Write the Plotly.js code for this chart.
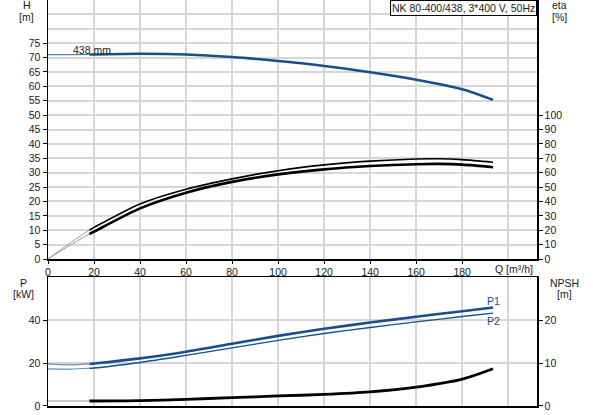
<!DOCTYPE html>
<html>
<head>
<meta charset="utf-8">
<script src="https://cdn.plot.ly/plotly-3.0.1.min.js"></script>
<style>
  html, body { margin: 0; padding: 0; background: #fff; }
  #chart { width: 593px; height: 415px; }
</style>
</head>
<body>
<div id="chart"></div>
<script>
// flow Q [m3/h] where the curves are read
var qThin = [0, 10, 18];
var qMain = [18, 20, 40, 60, 80, 100, 120, 140, 160, 180, 193.4];
var qEta = [18, 20, 40, 60, 80, 100, 120, 140, 160, 170, 180, 193.4];
var qNpsh = [18, 40, 60, 80, 100, 120, 140, 160, 180, 193.4];

// head H [m]
var headThin = [71.0, 71.0, 71.1];
var head = [71.1, 71.1, 71.3, 71.1, 70.2, 68.8, 67.1, 64.9, 62.3, 59.0, 55.3];

// efficiency [%]
var etaThinQ = [0, 9, 18];
var eta1Thin = [0, 10.5, 20.2];
var eta2Thin = [0, 9.0, 17.4];
var eta1 = [20.2, 22.0, 38.3, 48.5, 55.7, 61.4, 65.4, 68.0, 69.5, 69.7, 69.1, 67.3];
var eta2 = [17.4, 19.0, 35.2, 46.1, 53.6, 58.8, 62.3, 64.6, 65.9, 66.1, 65.6, 63.8];

// power P1 / P2 [kW]
var p1Thin = [19.6, 19.2, 19.6];
var p2Thin = [17.3, 17.2, 17.6];
var p1 = [19.6, 19.8, 22.2, 25.3, 29.0, 32.7, 36.0, 38.9, 41.6, 44.2, 45.9];
var p2 = [17.6, 17.7, 20.3, 23.6, 27.1, 30.6, 33.8, 36.6, 39.2, 41.7, 43.3];

// NPSH [m]
var npshThinQ = [0, 18];
var npshThin = [1.17, 1.17];
var npsh = [1.17, 1.25, 1.56, 1.95, 2.34, 2.70, 3.28, 4.38, 6.25, 8.67];

var qTicks = [0, 20, 40, 60, 80, 100, 120, 140, 160, 180];
var hTicks = [0, 5, 10, 15, 20, 25, 30, 35, 40, 45, 50, 55, 60, 65, 70, 75];
var etaTicks = [0, 10, 20, 30, 40, 50, 60, 70, 80, 90, 100];
var pTicks = [0, 20, 40];
var npshTicks = [0, 10, 20];

var blue = '#174f8e';
var thinGray = '#9a9a9a';
var grid = '#d6d6d6';
var font = {family: 'Liberation Sans, Arial, sans-serif', size: 10.5, color: '#1a1a1a'};

function line(x, y, xa, ya, color, width) {
  return {x: x, y: y, xaxis: xa, yaxis: ya, type: 'scatter', mode: 'lines',
    line: {color: color, width: width, shape: 'spline', smoothing: 0.8}, hoverinfo: 'skip'};
}

function label(text, x, y) {
  return {text: text, xref: 'paper', yref: 'paper', x: x, y: y,
    xanchor: 'center', yanchor: 'middle', showarrow: false};
}

var data = [
  line(qThin, headThin, 'x', 'y', '#5b7fae', 1.2),
  line(qMain, head, 'x', 'y', blue, 2.5),
  line(etaThinQ, eta1Thin, 'x', 'y2', thinGray, 1),
  line(etaThinQ, eta2Thin, 'x', 'y2', thinGray, 1),
  line(qEta, eta1, 'x', 'y2', '#000', 1.6),
  line(qEta, eta2, 'x', 'y2', '#000', 2.6),
  line(qThin, p1Thin, 'x2', 'y3', '#6f8fb5', 1.2),
  line(qThin, p2Thin, 'x2', 'y3', '#6f8fb5', 1.2),
  line(qMain, p1, 'x2', 'y3', blue, 2.6),
  line(qMain, p2, 'x2', 'y3', blue, 1.4),
  line(npshThinQ, npshThin, 'x2', 'y4', thinGray, 1),
  line(qNpsh, npsh, 'x2', 'y4', '#000', 2.8)
];

var xCommon = {
  range: [0, 212.5], tickmode: 'array', tickvals: qTicks,
  showgrid: true, gridcolor: grid, gridwidth: 1.5,
  minor: {tickmode: 'linear', tick0: 0, dtick: 20, showgrid: true, gridcolor: grid, gridwidth: 1.5, ticks: ''},
  showline: true, linecolor: '#000', linewidth: 1.5,
  zeroline: false, fixedrange: true
};

var layout = {
  width: 593, height: 415,
  margin: {l: 48, r: 56, t: 0, b: 9},
  paper_bgcolor: '#fff', plot_bgcolor: '#fff',
  font: font,
  showlegend: false,
  xaxis: Object.assign({}, xCommon, {
    anchor: 'y', domain: [0, 1],
    ticks: 'outside', ticklen: 3, tickcolor: '#000'
  }),
  xaxis2: Object.assign({}, xCommon, {
    anchor: 'y3', matches: 'x', showticklabels: false, ticks: '', mirror: true
  }),
  yaxis: {
    domain: [0.362, 1], anchor: 'x', range: [0, 90],
    tickmode: 'array', tickvals: hTicks,
    ticks: 'outside', ticklen: 4, tickcolor: '#000',
    showgrid: true, gridcolor: grid, gridwidth: 2,
    minor: {tickmode: 'linear', tick0: 0, dtick: 5, showgrid: true, gridcolor: grid, gridwidth: 2, ticks: ''},
    showline: true, linecolor: '#000', linewidth: 1.5, zeroline: false
  },
  yaxis2: {
    overlaying: 'y', side: 'right', anchor: 'x', range: [0, 180],
    tickmode: 'array', tickvals: etaTicks,
    ticks: 'outside', ticklen: 4, tickcolor: '#000',
    showgrid: false, showline: true, linecolor: '#000', linewidth: 1.5, zeroline: false
  },
  yaxis3: {
    domain: [0, 0.317], anchor: 'x2', range: [0, 60],
    tickmode: 'array', tickvals: pTicks,
    ticks: 'outside', ticklen: 4, tickcolor: '#000',
    showgrid: true, gridcolor: grid, gridwidth: 2,
    showline: true, linecolor: '#000', linewidth: 1.5, zeroline: false
  },
  yaxis4: {
    overlaying: 'y3', side: 'right', anchor: 'x2', range: [0, 30],
    tickmode: 'array', tickvals: npshTicks,
    ticks: 'outside', ticklen: 4, tickcolor: '#000',
    showgrid: false, showline: true, linecolor: '#000', linewidth: 1.5, zeroline: false
  },
  annotations: [
    label('H', -0.0437, 0.988),
    label('[m]', -0.0437, 0.959),
    label('eta', 1.047, 0.988),
    label('[%]', 1.047, 0.959),
    label('P', -0.0505, 0.303),
    label('[kW]', -0.0505, 0.276),
    label('NPSH', 1.056, 0.303),
    label('[m]', 1.056, 0.276),
    label('Q [m³/h]', 0.953, 0.338),
    {text: 'NK 80-400/438, 3*400 V, 50Hz', xref: 'paper', yref: 'paper', x: 1, y: 1,
      xanchor: 'right', yanchor: 'top', showarrow: false,
      bordercolor: '#000', borderwidth: 1, borderpad: 1, bgcolor: '#fff'},
    {text: '438 mm', xref: 'x', yref: 'y', x: 19.3, y: 72.7, showarrow: false},
    {text: 'P1', xref: 'x2', yref: 'y3', x: 193.4, y: 48.8, showarrow: false, font: {color: blue, size: 10.5, family: font.family}},
    {text: 'P2', xref: 'x2', yref: 'y3', x: 193.4, y: 39.6, showarrow: false, font: {color: blue, size: 10.5, family: font.family}}
  ]
};

Plotly.newPlot('chart', data, layout, {displayModeBar: false, staticPlot: true});
</script>
</body>
</html>
